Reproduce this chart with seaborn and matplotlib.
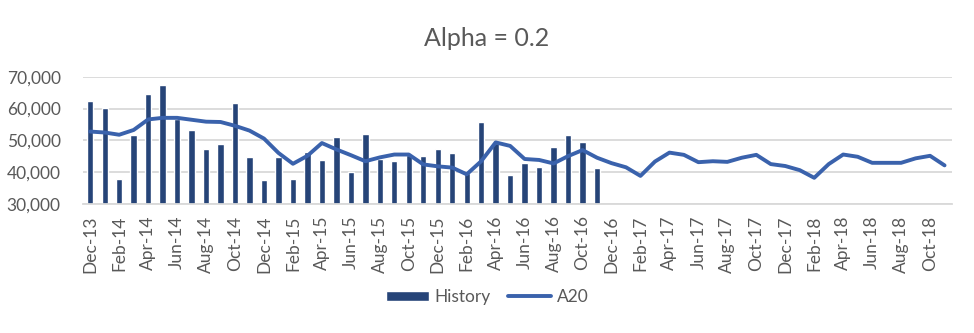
import numpy as np
import pandas as pd
import matplotlib
matplotlib.use("Agg")
import matplotlib.pyplot as plt
import seaborn as sns

months = ["Dec-13",
          "Jan-14", "Feb-14", "Mar-14", "Apr-14", "May-14", "Jun-14", "Jul-14", "Aug-14", "Sep-14", "Oct-14", "Nov-14", "Dec-14",
          "Jan-15", "Feb-15", "Mar-15", "Apr-15", "May-15", "Jun-15", "Jul-15", "Aug-15", "Sep-15", "Oct-15", "Nov-15", "Dec-15",
          "Jan-16", "Feb-16", "Mar-16", "Apr-16", "May-16", "Jun-16", "Jul-16", "Aug-16", "Sep-16", "Oct-16", "Nov-16", "Dec-16",
          "Jan-17", "Feb-17", "Mar-17", "Apr-17", "May-17", "Jun-17", "Jul-17", "Aug-17", "Sep-17", "Oct-17", "Nov-17", "Dec-17",
          "Jan-18", "Feb-18", "Mar-18", "Apr-18", "May-18", "Jun-18", "Jul-18", "Aug-18", "Sep-18", "Oct-18", "Nov-18"]

history = [62400, 60200, 38000, 51800, 64600, 67400, 56800, 53300, 47400, 49000, 61800, 44900,
           37700, 44900, 38000, 46400, 44000, 51200, 40200, 52100, 44200, 43600, 45400, 45200,
           47400, 46200, 39800, 55900, 49200, 39300, 43100, 41700, 48000, 51800, 49600, 41500]

a20 = [52800, 52500, 51800, 53300, 56600, 57100, 57100, 56500, 55900, 55800, 54600, 53100,
       50600, 46100, 42700, 45200, 49200, 47200, 45400, 43500, 44700, 45600, 45600, 42500,
       41900, 41500, 39400, 43500, 49400, 48300, 44200, 43900, 42800, 45100, 47000, 44600,
       42900, 41600, 38900, 43400, 46200, 45500, 43200, 43500, 43300, 44600, 45500, 42600,
       42000, 40700, 38300, 42600, 45600, 44900, 43000, 43000, 43000, 44400, 45200, 42200]

title = "Alpha = 0.2"
yticks = [30000, 40000, 50000, 60000, 70000]

sns.set_theme(style="white")
plt.rcParams['font.family'] = ['Lato', 'DejaVu Sans']
text_color = "#595959"
grid_color = "#D9D9D9"
bar_color = "#264478"
line_color = "#3A62AC"

fig = plt.figure(figsize=(9.74, 3.33), dpi=100)
ax = fig.add_axes([0.0852, 0.3865, 0.892, 0.3832])

hist_df = pd.DataFrame({"month": months[:len(history)], "value": history})
line_df = pd.DataFrame({"pos": np.arange(len(a20)), "value": a20})

ax.set_axisbelow(True)
for y in yticks:
    ax.axhline(y, color=grid_color, lw=1.3, zorder=0)

sns.barplot(data=hist_df, x="month", y="value", order=months, color=bar_color,
            saturation=1, width=0.44, ax=ax, label="History", zorder=2)
sns.lineplot(data=line_df, x="pos", y="value", color=line_color, lw=2.8,
             ax=ax, label="A20", zorder=3)

ax.set_xlim(-0.5, len(months) - 0.5)
ax.set_ylim(30000, 70000)
ax.set_yticks(yticks)
ax.set_yticklabels([f"{v:,}" for v in yticks])
ax.set_xticks(np.arange(0, len(months), 2))
ax.set_xticklabels(months[::2], rotation=90)
ax.tick_params(axis="both", length=0, labelsize=12.5, labelcolor=text_color)
ax.tick_params(axis="x", pad=8)
ax.tick_params(axis="y", pad=16)
ax.set_xlabel("")
ax.set_ylabel("")
for s in ["top", "right", "left"]:
    ax.spines[s].set_visible(False)
ax.spines["bottom"].set_color(grid_color)
ax.spines["bottom"].set_linewidth(1.3)

fig.text(0.5, 1 - 38 / 333, title, ha="center", va="center", fontsize=18, color=text_color)

handles, labels = ax.get_legend_handles_labels()
if ax.get_legend():
    ax.get_legend().remove()
order = [labels.index("History"), labels.index("A20")]
fig.legend([handles[i] for i in order], [labels[i] for i in order], loc="center",
           bbox_to_anchor=(0.5, 1 - 297 / 333), ncol=2,
           frameon=False, fontsize=12.5, labelcolor=text_color, handlelength=2.5,
           handleheight=0.55, handletextpad=0.3, columnspacing=1.0)

fig.savefig("out.png", dpi=100)
